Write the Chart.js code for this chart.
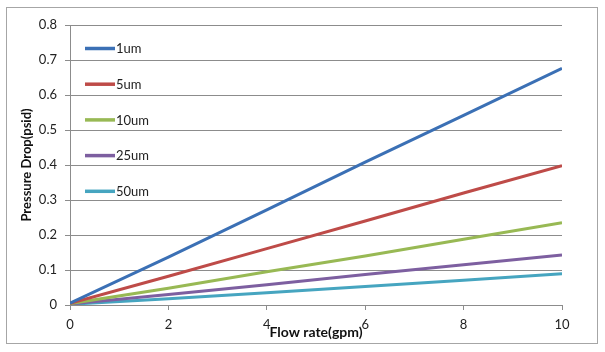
<!DOCTYPE html>
<html>
<head>
<meta charset="utf-8">
<script src="https://cdn.jsdelivr.net/npm/chart.js@4/dist/chart.umd.min.js"></script>
<style>
  html, body { margin: 0; padding: 0; background: #fff; }
  #wrap { width: 605px; height: 352px; }
</style>
</head>
<body>
<div id="wrap"><canvas id="chart" width="605" height="352"></canvas></div>
<script>
// flow rate in gpm
const flowRates = [0, 2, 4, 6, 8, 10];

// pressure drop in psid
const drop1um  = [0.005, 0.137, 0.272, 0.408, 0.542, 0.676];
const drop5um  = [0.005, 0.082, 0.161, 0.240, 0.320, 0.398];
const drop10um = [0.004, 0.048, 0.095, 0.140, 0.188, 0.235];
const drop25um = [0.003, 0.030, 0.058, 0.087, 0.115, 0.143];
const drop50um = [0.002, 0.018, 0.035, 0.053, 0.071, 0.089];

const seriesNames = ['1um', '5um', '10um', '25um', '50um'];
const seriesColors = ['#3b70b5', '#be4b48', '#98b954', '#7d5fa0', '#46a5c0'];
const seriesValues = [drop1um, drop5um, drop10um, drop25um, drop50um];

const FONT = "Lato, 'Open Sans', sans-serif";

function toPoints(values) {
    return values.map((v, i) => ({x: flowRates[i], y: v}));
}

// gray frame around the whole chart
const framePlugin = {
    id: 'frame',
    beforeDraw(chart) {
        const ctx = chart.ctx;
        ctx.save();
        ctx.fillStyle = '#fff';
        ctx.fillRect(0, 0, chart.width, chart.height);
        ctx.strokeStyle = '#a6a6a6';
        ctx.lineWidth = 1;
        ctx.strokeRect(6.5, 7.5, 591, 336);
        ctx.restore();
    }
};

// vertical legend inside the plot, top left
const insideLegend = {
    id: 'insideLegend',
    afterDatasetsDraw(chart) {
        const ctx = chart.ctx;
        const area = chart.chartArea;
        ctx.save();
        ctx.font = '13px ' + FONT;
        ctx.textBaseline = 'middle';
        ctx.textAlign = 'left';
        chart.data.datasets.forEach((ds, i) => {
            const y = area.top + 23.5 + i * 35.7;
            ctx.strokeStyle = ds.borderColor;
            ctx.lineWidth = 3.5;
            ctx.beginPath();
            ctx.moveTo(area.left + 15, y);
            ctx.lineTo(area.left + 45, y);
            ctx.stroke();
            ctx.fillStyle = '#222';
            ctx.fillText(ds.label, area.left + 46, y + 0.5);
        });
        ctx.restore();
    }
};

new Chart(document.getElementById('chart'), {
    type: 'line',
    data: {
        datasets: seriesNames.map((name, i) => ({
            label: name,
            data: toPoints(seriesValues[i]),
            borderColor: seriesColors[i],
            backgroundColor: seriesColors[i],
            borderWidth: 3,
            pointRadius: 0,
            tension: 0,
            fill: false
        }))
    },
    options: {
        responsive: false,
        animation: false,
        layout: { padding: { left: 0, right: 43, top: 25, bottom: 0 } },
        plugins: {
            legend: { display: false },
            tooltip: { enabled: false }
        },
        scales: {
            x: {
                type: 'linear',
                min: 0,
                max: 10,
                afterFit(scale) { scale.height = 47; },
                ticks: {
                    stepSize: 2,
                    color: '#222',
                    font: { family: FONT, size: 13 },
                    padding: 7
                },
                grid: {
                    drawOnChartArea: false,
                    drawTicks: true,
                    tickLength: 5,
                    color: '#8c8c8c'
                },
                border: { color: '#8c8c8c' },
                title: {
                    display: true,
                    text: 'Flow rate(gpm)',
                    color: '#111',
                    font: { family: FONT, size: 14, weight: 'bold' },
                    padding: { top: 0, bottom: 11 }
                }
            },
            y: {
                min: 0,
                max: 0.8,
                afterFit(scale) { scale.width = 70; },
                ticks: {
                    stepSize: 0.1,
                    color: '#222',
                    font: { family: FONT, size: 13 },
                    padding: 8,
                    callback: v => (Math.round(v * 10) / 10).toString()
                },
                grid: {
                    color: '#8c8c8c',
                    tickLength: 5
                },
                border: { color: '#8c8c8c' },
                title: {
                    display: true,
                    text: 'Pressure Drop(psid)',
                    color: '#111',
                    font: { family: FONT, size: 13, weight: 'bold' },
                    padding: { top: 19, bottom: 0 }
                }
            }
        }
    },
    plugins: [framePlugin, insideLegend]
});
</script>
</body>
</html>
